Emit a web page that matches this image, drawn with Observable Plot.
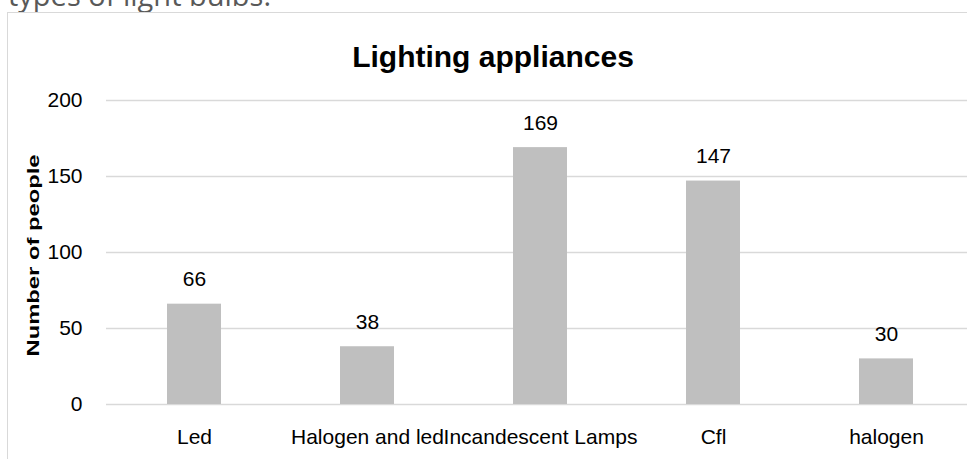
<!DOCTYPE html>
<html>
<head>
<meta charset="utf-8">
<script src="https://cdn.jsdelivr.net/npm/d3@7"></script>
<script src="https://cdn.jsdelivr.net/npm/@observablehq/plot@0.6"></script>
<style>
  html, body { margin: 0; padding: 0; background: #fff; overflow: hidden; }
  #wrap { position: relative; width: 967px; height: 459px; overflow: hidden; background: #fff; }
  #intro { position: absolute; left: 8px; top: -25px; font-family: "Open Sans", sans-serif; font-size: 29px; color: #595959; white-space: nowrap; }
  #box { position: absolute; left: 7px; top: 12px; width: 2000px; height: 2000px; border: 1px solid #d9d9d9; box-sizing: border-box; }
  #title { position: absolute; left: 0; width: 986px; top: 40px; text-align: center; font-family: "Liberation Sans", Arial, sans-serif; font-weight: bold; font-size: 30px; color: #000; }
  #chart { position: absolute; left: 0; top: 80px; }
</style>
</head>
<body>
<div id="wrap">
  <div id="intro">types of light bulbs.</div>
  <div id="box"></div>
  <div id="title">Lighting appliances</div>
  <div id="chart"></div>
</div>
<script>
const categories = ["Led", "Halogen and led", "Incandescent Lamps", "Cfl", "halogen"];
const values = [66, 38, 169, 147, 30];
const yTicks = [0, 50, 100, 150, 200];
const yLabel = "Number of people";

const data = categories.map((c, i) => ({category: c, value: values[i]}));

const plot = Plot.plot({
  width: 967,
  height: 379,
  marginLeft: 106,
  marginRight: 0,
  marginTop: 20,
  marginBottom: 55,
  style: {fontFamily: "'Liberation Sans', Arial, sans-serif", fontSize: "21px", color: "#000", background: "transparent", overflow: "visible"},
  x: {domain: categories, range: [106, 973], paddingInner: 0.69, paddingOuter: 0.345, label: null},
  y: {domain: [0, 200], ticks: yTicks, label: null},
  marks: [
    Plot.ruleY(yTicks, {stroke: "#d9d9d9", strokeWidth: 1.4}),
    Plot.barY(data, {x: "category", y: "value", fill: "#bfbfbf"}),
    Plot.text(data, {x: "category", y: "value", text: d => String(d.value), lineAnchor: "bottom", dy: -18, fontSize: 21, fill: "#000"}),
    Plot.axisX({tickSize: 0, tickPadding: 25, fontSize: 21, label: null}),
    Plot.axisY({ticks: yTicks, tickSize: 0, tickPadding: 24, fontSize: 21, label: null}),
    Plot.text([yLabel], {frameAnchor: "left", dx: -73, dy: 104, rotate: -90, textAnchor: "start", fontSize: 17, fontWeight: "bold", fill: "#000"})
  ]
});
document.getElementById("chart").appendChild(plot);
plot.querySelectorAll("text").forEach(t => {
  if (t.textContent === yLabel) {
    t.setAttribute("textLength", "202");
    t.setAttribute("lengthAdjust", "spacingAndGlyphs");
  }
});
</script>
</body>
</html>
